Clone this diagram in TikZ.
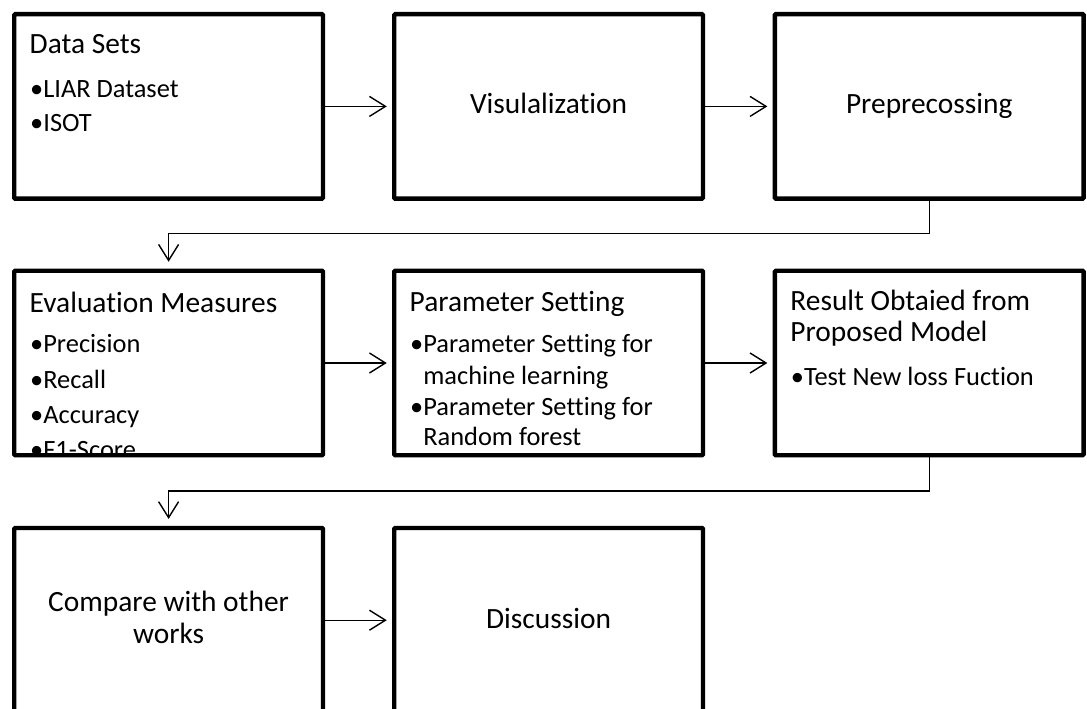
\documentclass[tikz,border=0pt]{standalone}
\usepackage{fontspec}
\setmainfont[Ligatures={NoCommon}]{Carlito}
\usetikzlibrary{arrows.meta}
\begin{document}
\begin{tikzpicture}[x=1pt,y=-1pt,
  box/.style={draw=black, line width=4.4pt, rectangle, rounded corners=1pt,
    minimum width=308.7pt, minimum height=184.5pt, inner sep=0pt},
  ttl/.style={font=\fontsize{29.4}{31}\selectfont, anchor=base west, inner sep=0pt},
  blt/.style={font=\fontsize{26.4}{30}\selectfont, anchor=base west, inner sep=0pt},
  ctr/.style={font=\fontsize{29.4}{31}\selectfont, anchor=base, inner sep=0pt},
  conn/.style={draw=black, line width=1.4pt,
    -{Straight Barb[length=16pt,width=20pt,line width=1.4pt]}},
  hconn/.style={conn, shorten >=5.3pt},
  vconn/.style={conn, shorten >=6.8pt}]
\useasboundingbox (0,0) rectangle (1087,709);

% boxes
\node[box] (b1) at (168.6,106.4) {};
\node[box] (b2) at (548.6,106.4) {};
\node[box] (b3) at (929.2,106.4) {};
\node[box] (b4) at (168.6,363) {};
\node[box] (b5) at (548.6,363) {};
\node[box] (b6) at (929.2,363) {};
\node[box] (b7) at (168.6,620.2) {};
\node[box] (b8) at (548.6,620.2) {};

% box 1
\node[ttl] (t1) at (29.5,54) {Data Sets};
\node[blt] (t1a) at (30,97) {•LIAR Dataset};
\node[blt] (t1b) at (30,131) {•ISOT};
% box 2, 3
\node[ctr] (t2) at (548.6,113.3) {Visulalization};
\node[ctr] (t3) at (929.2,113.3) {Preprecossing};
% box 4
\begin{scope}
\clip (14.3,270.5) rectangle (323,455.5);
\node[ttl] (t4) at (29.5,312) {Evaluation Measures};
\node[blt] (t4a) at (30,352) {•Precision};
\node[blt] (t4b) at (30,388) {•Recall};
\node[blt] (t4c) at (30,423) {•Accuracy};
\node[blt] (t4d) at (30,458) {•F1-Score};
\end{scope}
% box 5
\node[ttl] (t5) at (409.5,311) {Parameter Setting};
\node[blt] (t5a) at (410,352) {•Parameter Setting for};
\node[blt] (t5b) at (410,384.5) {\phantom{•}machine learning};
\node[blt] (t5c) at (410,415) {•Parameter Setting for};
\node[blt] (t5d) at (410,445) {\phantom{•}Random forest};
% box 6
\node[ttl] (t6) at (790.2,310) {Result Obtaied from};
\node[ttl] (t6b) at (790.2,341) {Proposed Model};
\node[blt] (t6a) at (790.7,385) {•Test New loss Fuction};
% box 7, 8
\node[ctr] (t7) at (168.6,611.7) {Compare with other};
\node[ctr] (t7b) at (168.6,643.3) {works};
\node[ctr] (t8) at (548.6,628.3) {Discussion};

% connectors
\draw[hconn] (b1.east) -- (b2.west);
\draw[hconn] (b2.east) -- (b3.west);
\draw[hconn] (b4.east) -- (b5.west);
\draw[hconn] (b5.east) -- (b6.west);
\draw[hconn] (b7.east) -- (b8.west);
\coordinate (e1) at (929.2,233.3);
\coordinate (e2) at (929.2,491);
\draw[vconn] (b3.south) -- (e1) -| (b4.north);
\draw[vconn] (b6.south) -- (e2) -| (b7.north);
\end{tikzpicture}
\end{document}
